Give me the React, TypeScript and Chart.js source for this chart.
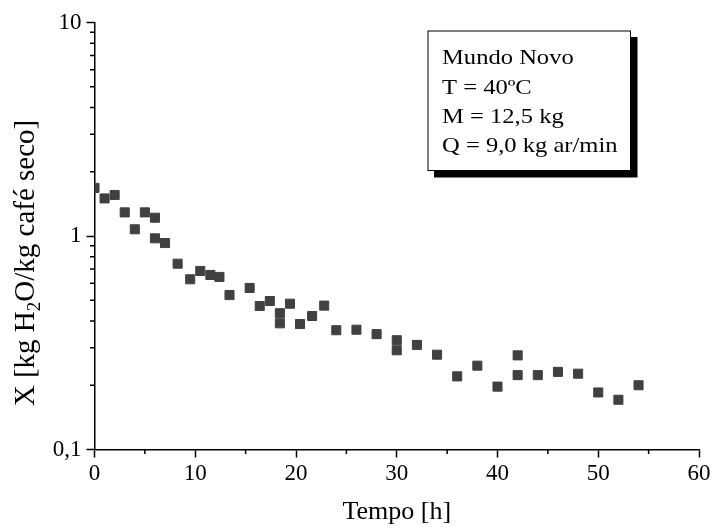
import React, { useEffect, useRef } from 'react';
import { Chart, registerables } from 'chart.js';

Chart.register(...registerables);

// ---- data ----
const times = [0, 1, 2, 3, 4, 5, 6, 6, 7, 8.25, 9.5, 10.5, 11.5, 12.4, 13.4, 15.4, 16.4, 17.4, 18.4, 18.4, 19.4, 20.4, 21.6, 22.8, 24, 26, 28, 30, 30, 32, 34, 36, 38, 40, 42, 42, 44, 46, 48, 50, 52, 54];
const moisture = [1.68, 1.5, 1.556, 1.29, 1.075, 1.29, 1.218, 0.975, 0.927, 0.742, 0.627, 0.686, 0.657, 0.643, 0.529, 0.571, 0.47, 0.496, 0.435, 0.39, 0.482, 0.387, 0.422, 0.472, 0.362, 0.364, 0.347, 0.325, 0.2915, 0.309, 0.278, 0.22, 0.247, 0.197, 0.276, 0.223, 0.223, 0.231, 0.2265, 0.185, 0.171, 0.2];

const xTickValues = [0, 10, 20, 30, 40, 50, 60];
const xMinorTicks = [5, 15, 25, 35, 45, 55];
const yTickValues = [0.1, 1, 10];
const yTickLabels = ['0,1', '1', '10'];
const yMinorTicks = [0.2, 0.3, 0.4, 0.5, 0.6, 0.7, 0.8, 0.9, 2, 3, 4, 5, 6, 7, 8, 9];
const legendLines = ['Mundo Novo', 'T = 40ºC', 'M = 12,5 kg', 'Q = 9,0 kg ar/min'];
const xTitle = 'Tempo [h]';
const yTitleParts = ['X [kg H', '2', 'O/kg café seco]'];

const FONT = "'Liberation Serif', 'Times New Roman', serif";

const decorPlugin = {
  id: 'decor',
  afterDraw(chart: any) {
    const ctx = chart.ctx as CanvasRenderingContext2D;
    const xs = chart.scales.x;
    const ys = chart.scales.y;
    const area = chart.chartArea;
    ctx.save();
    ctx.strokeStyle = '#000';
    ctx.lineWidth = 1.5;
    ctx.beginPath();
    for (const v of xMinorTicks) {
      const px = xs.getPixelForValue(v);
      ctx.moveTo(px, area.bottom);
      ctx.lineTo(px, area.bottom + 4.5);
    }
    for (const v of yMinorTicks) {
      const py = ys.getPixelForValue(v);
      ctx.moveTo(area.left, py);
      ctx.lineTo(area.left - 4.5, py);
    }
    ctx.stroke();

    // y title with subscript
    const F = 29;
    const SF = 19;
    ctx.fillStyle = '#000';
    ctx.textBaseline = 'alphabetic';
    ctx.textAlign = 'left';
    ctx.font = `${F}px ${FONT}`;
    const w1 = ctx.measureText(yTitleParts[0]).width;
    const w3 = ctx.measureText(yTitleParts[2]).width;
    ctx.font = `${SF}px ${FONT}`;
    const w2 = ctx.measureText(yTitleParts[1]).width;
    const total = w1 + w2 + w3;
    ctx.save();
    ctx.translate(33.5, 263);
    ctx.rotate(-Math.PI / 2);
    let sx = -total / 2;
    ctx.font = `${F}px ${FONT}`;
    ctx.fillText(yTitleParts[0], sx, 0);
    sx += w1;
    ctx.font = `${SF}px ${FONT}`;
    ctx.fillText(yTitleParts[1], sx, 6);
    sx += w2;
    ctx.font = `${F}px ${FONT}`;
    ctx.fillText(yTitleParts[2], sx, 0);
    ctx.restore();

    // annotation box
    const bx = 427.5, by = 30.5, bw = 203.5, bh = 140.5;
    ctx.fillStyle = '#000';
    ctx.fillRect(bx + 6.5, by + 6.5, bw, bh);
    ctx.fillStyle = '#fff';
    ctx.fillRect(bx, by, bw, bh);
    ctx.lineWidth = 1;
    ctx.strokeStyle = '#000';
    ctx.strokeRect(bx + 0.5, by + 0.5, bw - 1, bh - 1);
    ctx.fillStyle = '#000';
    ctx.font = `21px ${FONT}`;
    legendLines.forEach((line, i) => {
      ctx.save();
      ctx.translate(bx + 14.5, by + 33.8 + i * 29.3);
      ctx.scale(1.17, 1);
      ctx.fillText(line, 0, 0);
      ctx.restore();
    });
    ctx.restore();
  },
};

export default function App() {
  const ref = useRef<HTMLCanvasElement>(null);
  useEffect(() => {
    const chart = new Chart(ref.current!, {
      type: 'scatter',
      data: {
        datasets: [
          {
            data: times.map((t, i) => ({ x: t, y: moisture[i] })),
            showLine: false,
            pointStyle: 'rect',
            pointRadius: 6.4,
            pointHoverRadius: 6.4,
            backgroundColor: '#404040',
            borderColor: '#404040',
            borderWidth: 1,
            clip: 0,
          } as any,
        ],
      },
      options: {
        animation: false,
        responsive: false,
        devicePixelRatio: 1,
        layout: { padding: { top: 22.5, right: 14, left: 0, bottom: 0 } },
        plugins: { legend: { display: false }, tooltip: { enabled: false } },
        scales: {
          x: {
            type: 'linear',
            position: 'bottom',
            min: 0,
            max: 60,
            afterBuildTicks: (s: any) => {
              s.ticks = xTickValues.map((v) => ({ value: v }));
            },
            afterFit: (s: any) => {
              s.height = 81.5;
            },
            grid: { display: true, drawOnChartArea: false, drawTicks: true, tickLength: 8, tickWidth: 1.5, tickColor: '#000' },
            border: { display: true, color: '#000', width: 1.5 },
            ticks: {
              color: '#000',
              font: { family: FONT, size: 23 },
              padding: 2.5,
              maxRotation: 0,
              autoSkip: false,
              callback: (v: any) => String(v),
            },
            title: {
              display: true,
              text: xTitle,
              color: '#000',
              font: { family: FONT, size: 26 },
              padding: { top: 0, bottom: 3.5 },
            },
          },
          y: {
            type: 'logarithmic',
            position: 'left',
            min: 0.1,
            max: 10,
            afterBuildTicks: (s: any) => {
              s.ticks = yTickValues.map((v) => ({ value: v, major: true }));
            },
            afterFit: (s: any) => {
              s.width = 94.5;
            },
            grid: { display: true, drawOnChartArea: false, drawTicks: true, tickLength: 8, tickWidth: 1.5, tickColor: '#000' },
            border: { display: true, color: '#000', width: 1.5 },
            ticks: {
              color: '#000',
              font: { family: FONT, size: 23 },
              padding: 5,
              autoSkip: false,
              callback: (_v: any, i: number) => yTickLabels[i],
            },
            title: { display: false },
          },
        },
      } as any,
      plugins: [decorPlugin],
    });
    return () => chart.destroy();
  }, []);
  return (
    <div style={{ position: 'absolute', left: 0, top: 0, width: 713, height: 531, background: '#fff' }}>
      <canvas ref={ref} width={713} height={531} style={{ display: 'block', width: 713, height: 531 }} />
    </div>
  );
}
